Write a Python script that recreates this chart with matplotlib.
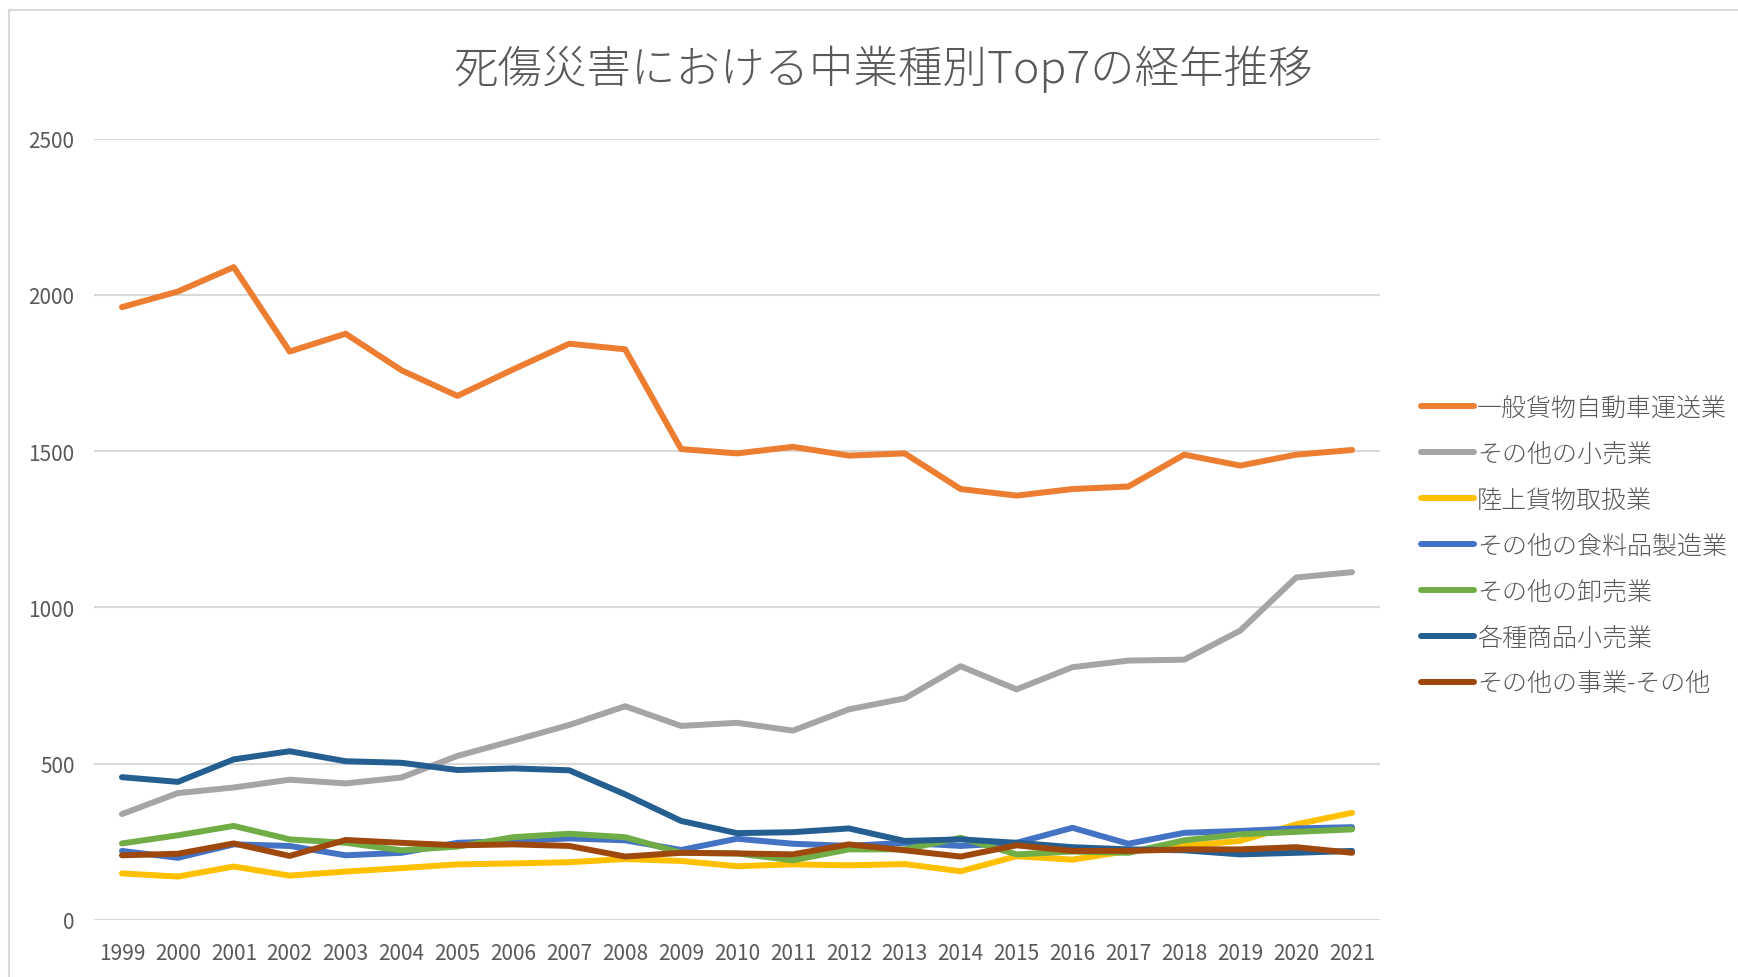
import matplotlib
matplotlib.use("Agg")
import matplotlib.pyplot as plt
from matplotlib.lines import Line2D

plt.rcParams['font.family'] = ['Noto Sans CJK JP', 'DejaVu Sans']

years = [str(y) for y in range(1999, 2022)]

trucking = [1961, 2011, 2089, 1819, 1876, 1759, 1677, 1762, 1844, 1826, 1507, 1493,
            1514, 1486, 1493, 1379, 1358, 1379, 1387, 1489, 1454, 1489, 1504]
other_retail = [339, 406, 424, 449, 437, 456, 525, 574, 624, 684, 621, 631,
                606, 674, 709, 812, 738, 809, 830, 833, 926, 1096, 1113]
cargo_handling = [149, 139, 171, 142, 155, 166, 178, 181, 185, 195, 189, 172,
                  178, 175, 179, 156, 204, 193, 221, 237, 253, 306, 343]
food_mfg = [221, 199, 242, 237, 207, 215, 247, 253, 261, 255, 224, 260,
            244, 237, 247, 237, 247, 295, 244, 279, 285, 293, 297]
wholesale = [245, 271, 301, 258, 247, 223, 235, 265, 276, 265, 215, 213,
             191, 226, 226, 263, 210, 219, 215, 255, 274, 282, 290]
general_retail = [457, 442, 514, 540, 508, 503, 480, 485, 479, 402, 317, 278,
                  281, 293, 253, 258, 247, 233, 226, 223, 210, 215, 221]
other_business = [207, 212, 245, 205, 256, 247, 239, 242, 237, 203, 215, 213,
                  210, 242, 223, 203, 239, 221, 221, 226, 226, 233, 215]

series = [
    ("一般貨物自動車運送業", trucking, "#ED7D31"),
    ("その他の小売業", other_retail, "#A5A5A5"),
    ("陸上貨物取扱業", cargo_handling, "#FFC000"),
    ("その他の食料品製造業", food_mfg, "#4472C4"),
    ("その他の卸売業", wholesale, "#70AD47"),
    ("各種商品小売業", general_retail, "#255E91"),
    ("その他の事業-その他", other_business, "#9E480E"),
]

W, H = 1738, 978
fig = plt.figure(figsize=(W / 100, H / 100), dpi=100)
fig.patch.set_facecolor("white")

ax = fig.add_axes([94 / W, 1 - 921 / H, (1380 - 94) / W, (921 - 139.7) / H])
x = list(range(len(years)))
for name, vals, col in series:
    ax.plot(x, vals, color=col, lw=4.3, label=name, solid_capstyle="round",
            solid_joinstyle="round")

ax.set_xlim(-0.5, len(years) - 0.5)
ax.set_ylim(0, 2500)
ax.set_yticks([0, 500, 1000, 1500, 2000, 2500])
ax.set_xticks(x)
ax.set_xticklabels(years)
ax.grid(axis="y", color="#D9D9D9", lw=1.5)
ax.set_axisbelow(True)
for s in ax.spines.values():
    s.set_visible(False)
ax.tick_params(axis="both", length=0, labelsize=15, labelcolor="#595959")
ax.tick_params(axis="x", pad=16)
ax.tick_params(axis="y", pad=14)

fig.text(883 / W, 1 - 69 / H, "死傷災害における中業種別Top7の経年推移",
         ha="center", va="center", fontsize=32, color="#595959", fontweight="light")

leg = ax.legend(loc="upper left", bbox_to_anchor=(1421 / W, 1 - 395 / H),
                bbox_transform=fig.transFigure, frameon=False,
                prop={"size": 18, "weight": "light"},
                handlelength=2.1, handletextpad=0.15, labelspacing=0.78,
                borderpad=0, borderaxespad=0)
for t in leg.get_texts():
    t.set_color("#595959")
for h in leg.get_lines():
    h.set_linewidth(4.3)

# chart area border
fig.add_artist(Line2D([9 / W, 9 / W], [0, 1 - 11 / H], color="#D9D9D9", lw=1.5,
                      transform=fig.transFigure))
fig.add_artist(Line2D([9 / W, 1], [1 - 11 / H, 1 - 11 / H], color="#D9D9D9", lw=1.5,
                      transform=fig.transFigure))

fig.savefig("out.png", dpi=100)
